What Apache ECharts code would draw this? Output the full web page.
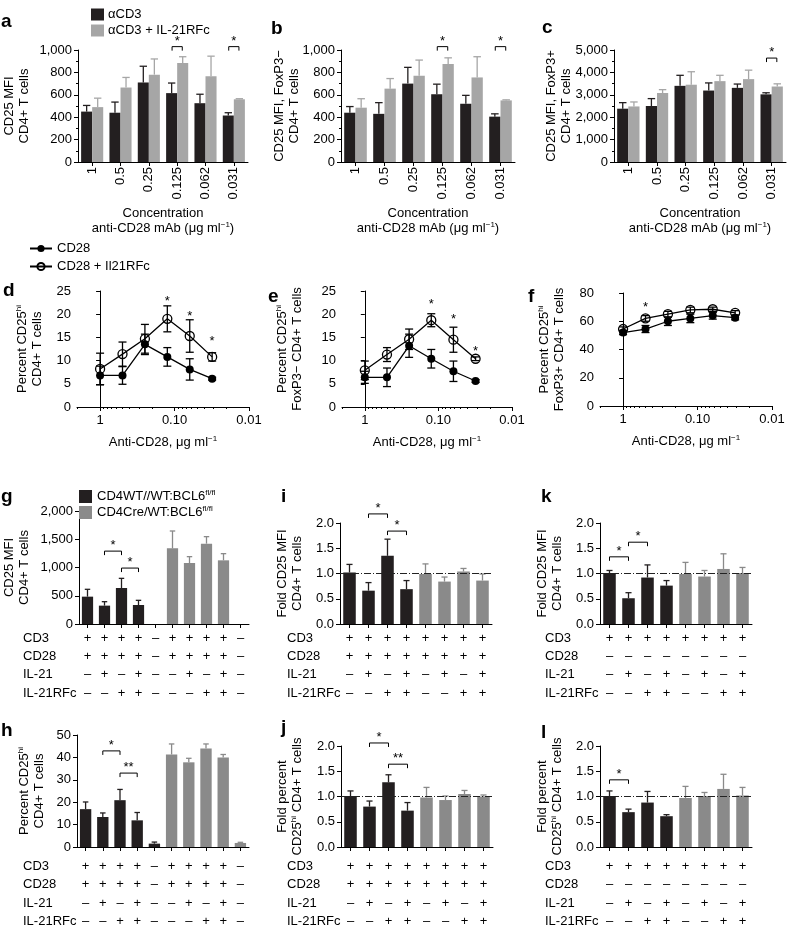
<!DOCTYPE html>
<html><head><meta charset="utf-8">
<script src="https://cdn.jsdelivr.net/npm/echarts@6/dist/echarts.min.js"></script>
<style>html,body{margin:0;padding:0;background:#fff}#c{width:788px;height:926px}</style>
</head><body><div id="c"></div>
<script>
// ================= DATA =================
const concLabels = ['1','0.5','0.25','0.125','0.062','0.031'];
// panel a
const aCD3 = [450,440,710,615,525,415];
const aCD3Sem = [55,95,145,90,80,25];
const aRFc = [490,665,780,885,765,560];
const aRFcSem = [80,90,140,55,180,5];
// panel b
const bCD3 = [440,430,700,605,520,405];
const bCD3Sem = [55,100,145,90,75,25];
const bRFc = [485,655,770,875,755,550];
const bRFcSem = [80,90,140,55,185,5];
// panel c
const cCD3 = [2380,2500,3400,3190,3310,3020];
const cCD3Sem = [270,330,470,340,170,70];
const cRFc = [2480,3080,3450,3610,3700,3370];
const cRFcSem = [200,150,580,260,400,120];
// significance (category index, bracket value)
const aSig = [{cat:3, y:1030, text:'*'}, {cat:5, y:1030, text:'*'}];
const bSig = [{cat:3, y:1030, text:'*'}, {cat:5, y:1030, text:'*'}];
const cSig = [{cat:5, y:4640, text:'*'}];

// panels d-f (x = concentration, µg/ml)
const doseConc = [1,0.5,0.25,0.125,0.0625,0.03125];
const doseTickVals = [1,0.1,0.01];
const doseTickLabels = ['1','0.10','0.01'];
const dCD28 = [6.8,6.8,13.5,10.8,8.1,6.1];
const dCD28Sem = [2.0,1.9,2.2,2.0,2.3,0.3];
const dRFc = [8.2,11.4,14.7,19.0,15.3,10.8];
const dRFcSem = [3.4,2.6,3.1,2.8,3.5,0.9];
const eCD28 = [6.4,6.4,13.2,10.4,7.7,5.6];
const eCD28Sem = [1.3,2.0,2.5,2.0,2.2,0.3];
const eRFc = [7.9,11.3,14.6,18.7,14.5,10.4];
const eRFcSem = [2.0,1.5,2.2,1.4,2.7,0.4];
const fCD28 = [52,54.5,60,62,64,62.5];
const fCD28Sem = [1.5,2.5,3,3,2.5,1.5];
const fRFc = [54.5,62,65,68,68.5,66];
const fRFcSem = [1.5,2,2,2,1.5,1.5];
const dStars = [{conc:0.125, y:23.5}, {conc:0.0625, y:20.3}, {conc:0.03125, y:14.8}];
const eStars = [{conc:0.125, y:22.8}, {conc:0.0625, y:19.6}, {conc:0.03125, y:12.8}];
const fStars = [{conc:0.5, y:72}];

// panels g,h (10 conditions: 5 WT, 5 Cre)
const treatRows = ['CD3','CD28','IL-21','IL-21RFc'];
const ghCD3   = ['+','+','+','+','–','+','+','+','+','–'];
const ghCD28  = ['+','+','+','+','–','+','+','+','+','–'];
const ghIL21  = ['–','+','–','+','–','–','+','–','+','–'];
const ghRFc   = ['–','–','+','+','–','–','–','+','+','–'];
const gWT  = [484,325,637,336,0];
const gWTSem = [130,70,171,83,0];
const gCre = [1339,1080,1422,1127,0];
const gCreSem = [307,112,124,118,0];
const hWT  = [16.9,13.4,20.9,11.9,1.5];
const hWTSem = [3.2,1.8,4.8,3.5,0.7];
const hCre = [41.3,37.8,44.0,40.0,1.8];
const hCreSem = [4.7,1.8,2.0,1.3,0.3];
const gSig = [{x1:1, x2:2, y:1290, text:'*'}, {x1:2, x2:3, y:990, text:'*'}];
const hSig = [{x1:1, x2:2, y:42.9, text:'*'}, {x1:2, x2:3, y:33, text:'**'}];

// panels i-l (8 conditions: 4 WT, 4 Cre)
const ijCD3  = ['+','+','+','+','+','+','+','+'];
const ijCD28 = ['+','+','+','+','+','+','+','+'];
const klCD28 = ['–','–','–','–','–','–','–','–'];
const ijIL21 = ['–','+','–','+','–','+','–','+'];
const ijRFc  = ['–','–','+','+','–','–','+','+'];
const iWT = [1.02,0.66,1.35,0.69];   const iWTSem = [0.16,0.16,0.33,0.17];
const iCre = [0.99,0.84,1.04,0.86];  const iCreSem = [0.20,0.09,0.06,0.13];
const jWT = [1.01,0.80,1.28,0.72];   const jWTSem = [0.10,0.11,0.15,0.16];
const jCre = [0.98,0.93,1.05,1.00];  const jCreSem = [0.20,0.08,0.07,0.03];
const kWT = [1.01,0.51,0.92,0.76];   const kWTSem = [0.05,0.11,0.25,0.10];
const kCre = [0.99,0.94,1.09,1.01];  const kCreSem = [0.23,0.12,0.30,0.11];
const lWT = [1.01,0.69,0.88,0.61];   const lWTSem = [0.10,0.06,0.22,0.03];
const lCre = [0.97,1.01,1.15,1.02];  const lCreSem = [0.23,0.07,0.29,0.16];
const foldRef = 1.0;
const iSig = [{x1:1, x2:2, y:2.18, text:'*'}, {x1:2, x2:3, y:1.84, text:'*'}];
const jSig = [{x1:1, x2:2, y:2.06, text:'*'}, {x1:2, x2:3, y:1.64, text:'**'}];
const kSig = [{x1:0, x2:1, y:1.33, text:'*'}, {x1:1, x2:2, y:1.62, text:'*'}];
const lSig = [{x1:0, x2:1, y:1.33, text:'*'}];

// ================= STYLE / HELPERS =================
const FONT = '"Liberation Sans", Arial, Helvetica, sans-serif';
const BLACK = '#231f20', GREY_L = '#a6a6a6', GREY = '#8a8a8a';
const RICH = {
  n: {fontSize:13, color:'#000', fontFamily:FONT, lineHeight:15},
  s: {fontSize:8, color:'#000', fontFamily:FONT, lineHeight:8, verticalAlign:'top'}
};
const option = {
  animation:false, backgroundColor:'#fff',
  textStyle:{fontFamily:FONT, color:'#000'},
  legend:[], grid:[], xAxis:[], yAxis:[], series:[], graphic:[]
};
const axLine = {show:true, lineStyle:{color:'#000', width:1}};
const tick = (len) => ({show:true, length:len, lineStyle:{color:'#000', width:1}});

function addGrid(r){ option.grid.push(Object.assign({outerBoundsMode:'none', containLabel:false}, r)); return option.grid.length-1; }
function addY(gi, min, max, interval, name, nameGap, fmt, minorSplit){
  option.yAxis.push({type:'value', gridIndex:gi, min, max, interval,
    axisLine:axLine, axisTick:tick(4),
    minorTick: minorSplit ? {show:true, splitNumber:minorSplit, length:2, lineStyle:{color:'#000'}} : {show:false},
    splitLine:{show:false}, minorSplitLine:{show:false},
    axisLabel:{color:'#000', fontSize:13, margin:6, fontFamily:FONT, formatter:fmt},
    name, nameLocation:'middle', nameGap, nameRotate:90, nameMoveOverlap:false,
    nameTextStyle:{color:'#000', fontSize:13, lineHeight:15, fontFamily:FONT, rich:RICH}});
  return option.yAxis.length-1;
}
const fmtThousands = v => v.toLocaleString('en-US');
const fmt1 = v => v.toFixed(1);
const fmtInt = v => String(v);

function errorBars(xi, yi, means, sems, color, offFrac, capFrac, startIdx){
  const data = [];
  means.forEach((m,i)=>{ if (sems[i] > 0) data.push([i + (startIdx||0), m, m + sems[i]]); });
  option.series.push({type:'custom', xAxisIndex:xi, yAxisIndex:yi, z:3, silent:true, clip:false, data,
    renderItem(params, api){
      const band = api.size([1,0])[0];
      const a = api.coord([api.value(0), api.value(1)]);
      const b = api.coord([api.value(0), api.value(2)]);
      const x = a[0] + offFrac*band, cw = capFrac*band/2;
      const st = {stroke:color, lineWidth:1.3};
      return {type:'group', children:[
        {type:'line', shape:{x1:x, y1:a[1], x2:x, y2:b[1]}, style:st},
        {type:'line', shape:{x1:x-cw, y1:b[1], x2:x+cw, y2:b[1]}, style:st}]};
    }});
}
function errorBars2(xi, yi, xs, means, sems){
  option.series.push({type:'custom', xAxisIndex:xi, yAxisIndex:yi, z:2, silent:true, clip:false,
    data: xs.map((x,i)=>[x, means[i]-sems[i], means[i]+sems[i]]),
    renderItem(params, api){
      const a = api.coord([api.value(0), api.value(1)]);
      const b = api.coord([api.value(0), api.value(2)]);
      const st = {stroke:'#000', lineWidth:1.3};
      return {type:'group', children:[
        {type:'line', shape:{x1:a[0], y1:a[1], x2:b[0], y2:b[1]}, style:st},
        {type:'line', shape:{x1:a[0]-4, y1:a[1], x2:a[0]+4, y2:a[1]}, style:st},
        {type:'line', shape:{x1:b[0]-4, y1:b[1], x2:b[0]+4, y2:b[1]}, style:st}]};
    }});
}
// brackets (bracket:true) or plain stars; x in axis units, fractional offsets in band units
function annots(xi, yi, items, isCat, bracket){
  option.series.push({type:'custom', xAxisIndex:xi, yAxisIndex:yi, z:4, silent:true, clip:false,
    data: items.map(it=>[it.x1, it.x2, it.y]),
    renderItem(params, api){
      const it = items[params.dataIndex];
      let p1, p2;
      if (isCat){
        const band = api.size([1,0])[0];
        const r1 = Math.round(it.x1), r2 = Math.round(it.x2);
        const c1 = api.coord([r1, it.y]), c2 = api.coord([r2, it.y]);
        p1 = [c1[0] + (it.x1-r1)*band, c1[1]]; p2 = [c2[0] + (it.x2-r2)*band, c2[1]];
      } else { p1 = api.coord([it.x1, it.y]); p2 = api.coord([it.x2, it.y]); }
      const ch = [];
      const cx = (p1[0]+p2[0])/2;
      if (bracket){
        ch.push({type:'polyline', shape:{points:[[p1[0],p1[1]+4],[p1[0],p1[1]],[p2[0],p2[1]],[p2[0],p2[1]+4]]},
          style:{stroke:'#000', fill:null, lineWidth:1}});
        ch.push({type:'text', style:{text:it.text, x:cx, y:p1[1]-9+3.5, align:'center', verticalAlign:'middle', font:'13px '+FONT, fill:'#000'}});
      } else {
        ch.push({type:'text', style:{text:it.text, x:cx, y:p1[1]+3.5, align:'center', verticalAlign:'middle', font:'13px '+FONT, fill:'#000'}});
      }
      return {type:'group', children:ch};
    }});
}

// ================= ROW 1: a, b, c =================
const xTitle1 = '{n|Concentration}\n{n|anti-CD28 mAb (μg ml}{s|−1}{n|)}';
function panelABC(rect, black, blackSem, grey, greySem, yMax, yInt, yName, yGap, sig){
  const gi = addGrid(rect);
  option.xAxis.push({type:'category', gridIndex:gi, data:concLabels,
    axisLine:axLine, axisTick:Object.assign(tick(4), {alignWithLabel:true}),
    axisLabel:{color:'#000', fontSize:13, rotate:90, margin:5, interval:0, fontFamily:FONT},
    name:xTitle1, nameLocation:'middle', nameGap:44, nameMoveOverlap:false,
    nameTextStyle:{color:'#000', fontSize:13, lineHeight:15, rich:RICH}});
  const xi = option.xAxis.length-1;
  const yi = addY(gi, 0, yMax, yInt, yName, yGap, fmtThousands, 2);
  option.series.push({type:'bar', name:'αCD3', xAxisIndex:xi, yAxisIndex:yi, data:black,
    barGap:'0%', barCategoryGap:'22%', itemStyle:{color:BLACK}});
  option.series.push({type:'bar', name:'αCD3 + IL-21RFc', xAxisIndex:xi, yAxisIndex:yi, data:grey,
    barGap:'0%', barCategoryGap:'22%', itemStyle:{color:GREY_L}});
  errorBars(xi, yi, black, blackSem, BLACK, -0.195, 0.26);
  errorBars(xi, yi, grey, greySem, GREY_L, 0.195, 0.26);
  annots(xi, yi, sig.map(s=>({x1:s.cat-0.18, x2:s.cat+0.18, y:s.y, text:s.text})), true, true);
}
panelABC({left:78, top:50, width:170, height:112}, aCD3, aCD3Sem, aRFc, aRFcSem, 1000, 200,
  '{n|CD25 MFI}\n{n|CD4+ T cells}', 46, aSig);
panelABC({left:341, top:50, width:174, height:112}, bCD3, bCD3Sem, bRFc, bRFcSem, 1000, 200,
  '{n|CD25 MFI, FoxP3−}\n{n|CD4+ T cells}', 39, bSig);
panelABC({left:614, top:50, width:172, height:112}, cCD3, cCD3Sem, cRFc, cRFcSem, 5000, 1000,
  '{n|CD25 MFI, FoxP3+}\n{n|CD4+ T cells}', 40, cSig);
option.legend.push({left:86, top:3, orient:'vertical', itemWidth:13, itemHeight:12, itemGap:3, icon:'rect',
  data:['αCD3','αCD3 + IL-21RFc'], textStyle:{fontSize:13, color:'#000', fontFamily:FONT, padding:[0,0,0,-1]}, selectedMode:false});

// ================= ROW 2: d, e, f =================
const toLogPos = c => -Math.log10(c);
const majorPos = doseTickVals.map(toLogPos);
const minorPos = [];
[1,0.1].forEach(dec => { for (let k=2;k<=9;k++){ minorPos.push(toLogPos(dec*k/10)); } });
minorPos.push(toLogPos(2));
const xTitle2 = '{n|Anti-CD28, μg ml}{s|−1}';
function panelDEF(rect, filled, filledSem, open, openSem, yMax, yInt, yName, yGap, stars){
  const gi = addGrid(rect);
  option.xAxis.push({type:'value', gridIndex:gi, min:-0.31, max:2.0,
    axisLine:axLine, axisTick:Object.assign(tick(4), {customValues:majorPos}),
    splitLine:{show:false},
    axisLabel:{color:'#000', fontSize:13, margin:7, fontFamily:FONT, customValues:majorPos,
      formatter: v => { const i = majorPos.findIndex(p => Math.abs(p - v) < 1e-6); return i >= 0 ? doseTickLabels[i] : ''; }},
    name:xTitle2, nameLocation:'middle', nameGap:28, nameMoveOverlap:false,
    nameTextStyle:{color:'#000', fontSize:13, lineHeight:15, rich:RICH}});
  const xi = option.xAxis.length-1;
  option.xAxis.push({type:'value', gridIndex:gi, min:-0.31, max:2.0, position:'bottom',
    axisLine:{show:false}, splitLine:{show:false}, axisLabel:{show:false},
    axisTick:Object.assign(tick(2), {customValues:minorPos.filter(p=>p>=-0.31)})});
  const yi = addY(gi, 0, yMax, yInt, yName, yGap, fmtInt, 0);
  const xs = doseConc.map(toLogPos);
  errorBars2(xi, yi, xs, filled, filledSem);
  errorBars2(xi, yi, xs, open, openSem);
  option.series.push({type:'line', name:'CD28', xAxisIndex:xi, yAxisIndex:yi, z:5,
    data: xs.map((x,i)=>[x, filled[i]]), symbol:'circle', symbolSize:8,
    itemStyle:{color:'#000'}, lineStyle:{color:'#000', width:1.3}});
  option.series.push({type:'line', name:'CD28 + Il21RFc', xAxisIndex:xi, yAxisIndex:yi, z:6,
    data: xs.map((x,i)=>[x, open[i]]), symbol:'circle', symbolSize:9,
    itemStyle:{color:'rgba(255,255,255,0)', borderColor:'#000', borderWidth:1.3}, lineStyle:{color:'#000', width:1.3}});
  annots(xi, yi, stars.map(s=>({x1:toLogPos(s.conc), x2:toLogPos(s.conc), y:s.y, text:'*'})), false, false);
}
const pctHi = '{n|Percent CD25}{s|hi}';
panelDEF({left:77, top:291, width:172, height:116}, dCD28, dCD28Sem, dRFc, dRFcSem, 25, 5,
  pctHi + '\n{n|CD4+ T cells}', 32, dStars);
panelDEF({left:342, top:291, width:170, height:116}, eCD28, eCD28Sem, eRFc, eRFcSem, 25, 5,
  pctHi + '\n{n|FoxP3− CD4+ T cells}', 37, eStars);
panelDEF({left:600, top:293, width:172, height:113}, fCD28, fCD28Sem, fRFc, fRFcSem, 80, 20,
  pctHi + '\n{n|FoxP3+ CD4+ T cells}', 33, fStars);
option.legend.push({left:24, top:237, orient:'vertical', itemWidth:22, itemHeight:9, itemGap:5,
  data:['CD28','CD28 + Il21RFc'], textStyle:{fontSize:13, color:'#000', fontFamily:FONT}, selectedMode:false});

// ================= ROWS 3-4: g, h, i, j, k, l =================
function panelTable(rect, wt, wtSem, cre, creSem, rows, rowOffsets, nameGapRows,
                    yMax, yInt, fmt, yName, yGap, sig, refLine){
  const gi = addGrid(rect);
  const cats = rows[0].map((_, i) => String(i));
  option.xAxis.push({type:'category', gridIndex:gi, data:cats,
    axisLine:axLine, axisTick:Object.assign(tick(4), {alignWithLabel:true, interval:0}),
    axisLabel:{show:false}});
  const xi = option.xAxis.length-1;
  rows.forEach((signs, r) => {
    option.xAxis.push({type:'category', gridIndex:gi, data:cats, position:'bottom', offset:rowOffsets[r],
      axisLine:{show:false}, axisTick:{show:false},
      axisLabel:{interval:0, margin:0, verticalAlign:'middle', fontSize:13, color:'#000', fontFamily:FONT,
        formatter:(v, idx) => signs[idx]},
      name:treatRows[r], nameLocation:'start', nameGap:nameGapRows, nameMoveOverlap:false,
      nameTextStyle:{align:'left', verticalAlign:'middle', fontSize:13, color:'#000', fontFamily:FONT}});
  });
  const yi = addY(gi, 0, yMax, yInt, yName, yGap, fmt, 0);
  const pad = (arr, before, after) => Array(before).fill('-').concat(arr, Array(after).fill('-'));
  const sBlack = {type:'bar', name:'CD4WT//WT:BCL6', xAxisIndex:xi, yAxisIndex:yi,
    data:pad(wt, 0, cre.length), barGap:'-100%', barCategoryGap:'34%', itemStyle:{color:BLACK}};
  const sGrey = {type:'bar', name:'CD4Cre/WT:BCL6', xAxisIndex:xi, yAxisIndex:yi,
    data:pad(cre, wt.length, 0), barGap:'-100%', barCategoryGap:'34%', itemStyle:{color:GREY}};
  if (refLine != null){
    sGrey.markLine = {silent:true, symbol:'none', label:{show:false}, animation:false,
      lineStyle:{color:'#222', width:1, type:[7,2,1,2]}, data:[{yAxis:refLine}]};
  }
  option.series.push(sBlack, sGrey);
  errorBars(xi, yi, wt, wtSem, BLACK, 0, 0.32, 0);
  errorBars(xi, yi, cre, creSem, GREY, 0, 0.32, wt.length);
  annots(xi, yi, sig, true, true);
}
const ghRows = [ghCD3, ghCD28, ghIL21, ghRFc];
const ijRows = [ijCD3, ijCD28, ijIL21, ijRFc];
const klRows = [ijCD3, klCD28, ijIL21, ijRFc];
const offA = [14,32,50,69], offB = [19,37,56,74];
panelTable({left:79, top:511, width:170, height:113}, gWT, gWTSem, gCre, gCreSem, ghRows, offA, 56,
  2000, 500, fmtThousands, '{n|CD25 MFI}\n{n|CD4+ T cells}', 47, gSig, null);
panelTable({left:77, top:735, width:172, height:112}, hWT, hWTSem, hCre, hCreSem, ghRows, offB, 54,
  50, 10, fmtInt, pctHi + '\n{n|CD4+ T cells}', 30, hSig, null);
panelTable({left:340, top:523, width:152, height:101}, iWT, iWTSem, iCre, iCreSem, ijRows, offA, 53,
  2, 0.5, fmt1, '{n|Fold CD25 MFI}\n{n|CD4+ T cells}', 35, iSig, foldRef);
panelTable({left:341, top:746, width:152, height:101}, jWT, jWTSem, jCre, jCreSem, ijRows, offB, 54,
  2, 0.5, fmt1, '{n|Fold percent}\n{n|CD25}{s|hi}{n| CD4+ T cells}', 36, jSig, foldRef);
panelTable({left:600, top:523, width:152, height:101}, kWT, kWTSem, kCre, kCreSem, klRows, offA, 55,
  2, 0.5, fmt1, '{n|Fold CD25 MFI}\n{n|CD4+ T cells}', 35, kSig, foldRef);
panelTable({left:600, top:746, width:152, height:101}, lWT, lWTSem, lCre, lCreSem, klRows, offB, 55,
  2, 0.5, fmt1, '{n|Fold percent}\n{n|CD25}{s|hi}{n| CD4+ T cells}', 35, lSig, foldRef);
option.legend.push({left:74, top:484, orient:'vertical', itemWidth:13, itemHeight:13, itemGap:2, icon:'rect',
  data:['CD4WT//WT:BCL6','CD4Cre/WT:BCL6'], selectedMode:false,
  formatter: name => '{n|' + name + '}{s|fl/fl}',
  textStyle:{fontSize:13, color:'#000', fontFamily:FONT, rich:RICH}});

// panel letters
const letters = [['a',1,27],['b',271,34],['c',542,33],['d',3,296],['e',268,302],['f',528,302],
  ['g',1,502],['i',281,502],['k',541,502],['h',1,736],['j',281,733],['l',541,738]];
letters.forEach(([t,x,y]) => option.graphic.push({type:'text', x, y:y+4,
  style:{text:t, font:'bold 19px '+FONT, fill:'#000', verticalAlign:'bottom'}}));

const chart = echarts.init(document.getElementById('c'), null, {renderer:'canvas'});
chart.setOption(option);
</script></body></html>
